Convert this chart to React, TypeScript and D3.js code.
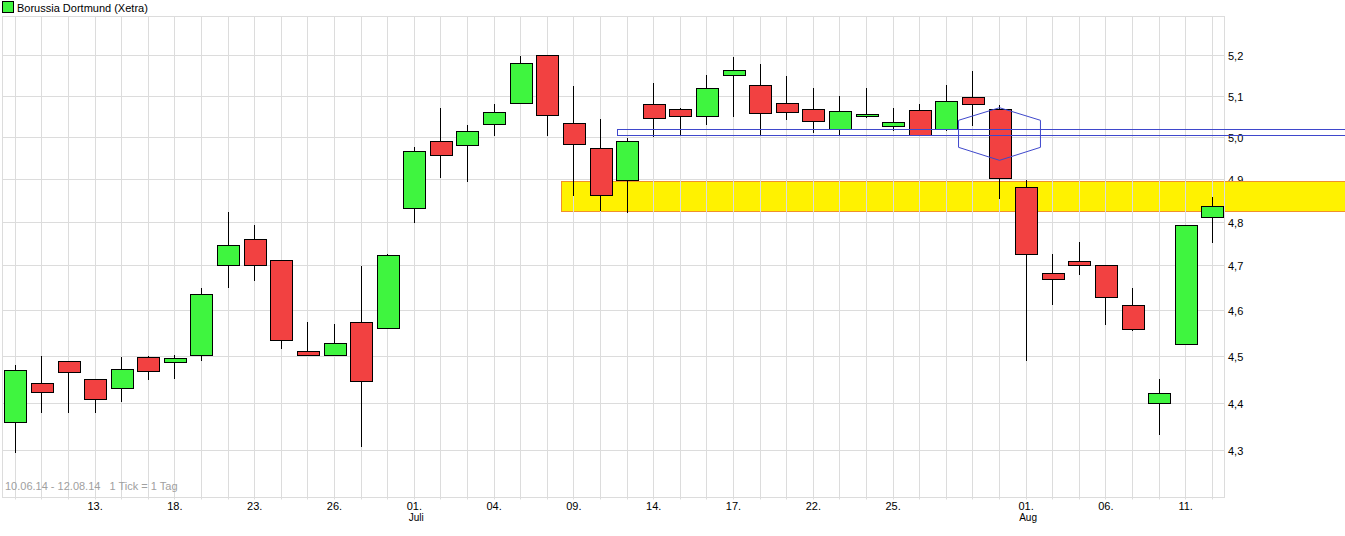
import React, { useEffect } from "react";
import * as d3 from "d3";

// ---------- DATA ----------
const title = "Borussia Dortmund (Xetra)";
const rangeText = "10.06.14 - 12.08.14   1 Tick = 1 Tag";

const tradingDays = [
  "2014-06-10","2014-06-11","2014-06-12","2014-06-13","2014-06-16","2014-06-17","2014-06-18","2014-06-19","2014-06-20",
  "2014-06-23","2014-06-24","2014-06-25","2014-06-26","2014-06-27","2014-06-30",
  "2014-07-01","2014-07-02","2014-07-03","2014-07-04","2014-07-07","2014-07-08","2014-07-09","2014-07-10","2014-07-11",
  "2014-07-14","2014-07-15","2014-07-16","2014-07-17","2014-07-18","2014-07-21","2014-07-22","2014-07-23","2014-07-24",
  "2014-07-25","2014-07-28","2014-07-29","2014-07-30","2014-07-31",
  "2014-08-01","2014-08-04","2014-08-05","2014-08-06","2014-08-07","2014-08-08","2014-08-11","2014-08-12",
];

const openPrices = [
  4.360, 4.442, 4.490, 4.451, 4.432, 4.498, 4.487, 4.502, 4.701, 4.761,
  4.713, 4.511, 4.502, 4.574, 4.561, 4.832, 4.990, 4.981, 5.031, 5.082,
  5.201, 5.034, 4.974, 4.898, 5.080, 5.068, 5.051, 5.151, 5.126, 5.082,
  5.068, 5.020, 5.051, 5.026, 5.065, 5.019, 5.097, 5.068, 4.881, 4.683,
  4.710, 4.701, 4.612, 4.400, 4.526, 4.811,
];
const highPrices = [
  4.481, 4.501, 4.490, 4.451, 4.499, 4.500, 4.502, 4.650, 4.824, 4.793,
  4.713, 4.575, 4.571, 4.700, 4.726, 4.977, 5.071, 5.030, 5.081, 5.199,
  5.201, 5.125, 5.044, 4.998, 5.131, 5.070, 5.152, 5.197, 5.179, 5.149,
  5.119, 5.099, 5.119, 5.070, 5.080, 5.127, 5.162, 5.077, 4.898, 4.727,
  4.754, 4.701, 4.650, 4.451, 4.793, 4.858,
];
const lowPrices = [
  4.296, 4.380, 4.380, 4.380, 4.403, 4.450, 4.452, 4.489, 4.651, 4.665,
  4.517, 4.502, 4.502, 4.309, 4.561, 4.799, 4.904, 4.894, 5.004, 5.080,
  5.004, 4.861, 4.826, 4.822, 5.001, 5.004, 5.030, 5.050, 5.004, 5.042,
  5.011, 5.006, 5.047, 5.014, 5.006, 5.016, 5.028, 4.854, 4.491, 4.613,
  4.680, 4.569, 4.556, 4.334, 4.526, 4.752,
];
const closePrices = [
  4.470, 4.424, 4.466, 4.408, 4.472, 4.468, 4.496, 4.638, 4.747, 4.701,
  4.535, 4.502, 4.530, 4.446, 4.724, 4.966, 4.957, 5.014, 5.060, 5.181,
  5.053, 4.983, 4.862, 4.990, 5.046, 5.051, 5.119, 5.164, 5.058, 5.060,
  5.038, 5.063, 5.056, 5.036, 5.006, 5.089, 5.080, 4.902, 4.726, 4.670,
  4.701, 4.630, 4.559, 4.421, 4.793, 4.837,
];

const xTickDates = ["2014-06-13","2014-06-18","2014-06-23","2014-06-26","2014-07-01","2014-07-04","2014-07-09",
  "2014-07-14","2014-07-17","2014-07-22","2014-07-25","2014-08-01","2014-08-06","2014-08-11"];
const xTickLabels = ["13.","18.","23.","26.","01.","04.","09.","14.","17.","22.","25.","01.","06.","11."];
const monthDates = ["2014-07-01", "2014-08-01"];
const monthLabels = ["Juli", "Aug"];

const yTicks = [4.3, 4.4, 4.5, 4.6, 4.7, 4.8, 4.9, 5.0, 5.1, 5.2];
const yTickLabels = ["4,3","4,4","4,5","4,6","4,7","4,8","4,9","5,0","5,1","5,2"];

// annotations (in day-index / price units)
const supportZone = { fromIndex: 20.53, low: 4.825, high: 4.895 };
const resistanceZone = { fromIndex: 22.63, low: 5.0045, high: 5.019 };
const hexagon = { centerIndex: 37, halfWidth: 1.54, top: 5.0714, upper: 5.0408, lower: 4.9757, bottom: 4.9447 };

// ---------- CHART ----------
const W = 1345, H = 536;
const GRID = "#dcdcdc";
const GREEN = "#3ff53f";
const RED = "#f24141";
const BLUE = "#3f48cc";
const FONT = "'Liberation Sans', Arial, sans-serif";

export default function App() {
  useEffect(() => {
    document.body.style.margin = "0";
  }, []);

  const x = d3.scaleLinear().domain([0, tradingDays.length - 1]).range([15.3, 1212.3]);
  const y = d3.scaleLog().domain([4.2058, 5.3]).range([497, 16]);
  const left = 2.5, right = 1224.5, top = 16.5, bottom = 497.5;
  const crisp = (v: number) => Math.floor(v) + 0.5;
  const idx = (d: string) => tradingDays.indexOf(d);

  const hx0 = x(hexagon.centerIndex - hexagon.halfWidth);
  const hx1 = x(hexagon.centerIndex + hexagon.halfWidth);
  const hxc = x(hexagon.centerIndex);
  const hexPts = [
    [hxc, y(hexagon.top)], [hx1, y(hexagon.upper)], [hx1, y(hexagon.lower)],
    [hxc, y(hexagon.bottom)], [hx0, y(hexagon.lower)], [hx0, y(hexagon.upper)],
  ];
  const hexPath = d3.line()(hexPts as [number, number][]) + "Z";

  return (
    <svg width={W} height={H} style={{ position: "absolute", left: 0, top: 0, background: "#fff" }}
      fontFamily={FONT}>
      <rect x={0} y={0} width={W} height={H} fill="#fff" />
      {/* legend */}
      <rect x={2.5} y={1.5} width={11} height={11} fill={GREEN} stroke="#000" />
      <text x={17} y={11.5} fontSize={11} fill="#000">{title}</text>

      {/* y labels */}
      {yTicks.map((t, i) => (
        <text key={"yl" + i} x={1228} y={y(t) + 4.5} fontSize={11} fill="#000">{yTickLabels[i]}</text>
      ))}

      {/* support zone */}
      <rect x={crisp(x(supportZone.fromIndex))} y={crisp(y(supportZone.high))}
        width={W - crisp(x(supportZone.fromIndex)) + 2}
        height={Math.round(y(supportZone.low) - y(supportZone.high))}
        fill="#fff200" stroke="#f0902a" strokeWidth={1} />

      {/* grid */}
      {yTicks.map((t, i) => (
        <line key={"hg" + i} x1={left} x2={right} y1={crisp(y(t))} y2={crisp(y(t))} stroke={GRID} />
      ))}
      {tradingDays.map((d, i) => (
        <line key={"vg" + i} x1={crisp(x(i))} x2={crisp(x(i))} y1={top} y2={bottom + 2} stroke={GRID} />
      ))}
      <rect x={left} y={top} width={right - left} height={bottom - top} fill="none" stroke={GRID} />

      {/* range text */}
      <text x={5} y={489.5} fontSize={11} fill="#a0a0a0" style={{ whiteSpace: "pre" }} xmlSpace="preserve">{rangeText}</text>

      {/* x labels */}
      {xTickDates.map((d, i) => (
        <text key={"xl" + i} x={x(idx(d))} y={509.5} fontSize={11} textAnchor="middle" fill="#000">{xTickLabels[i]}</text>
      ))}
      {monthDates.map((d, i) => (
        <text key={"ml" + i} x={x(idx(d)) + 2} y={520.5} fontSize={10} textAnchor="middle" fill="#000">{monthLabels[i]}</text>
      ))}

      {/* candles */}
      {tradingDays.map((d, i) => {
        const o = openPrices[i], c = closePrices[i], hi = highPrices[i], lo = lowPrices[i];
        const cx = crisp(x(i));
        const yTop = Math.round(y(Math.max(o, c)));
        const yBot = Math.round(y(Math.min(o, c)));
        const up = c >= o;
        return (
          <g key={"c" + i}>
            <line x1={cx} x2={cx} y1={Math.round(y(hi))} y2={Math.round(y(lo))} stroke="#000" strokeWidth={1} />
            <rect x={Math.round(x(i)) - 10.5} y={yTop + 0.5} width={22} height={Math.max(yBot - yTop, 2)}
              fill={up ? GREEN : RED} stroke="#000" strokeWidth={1} />
          </g>
        );
      })}

      {/* resistance zone */}
      <rect x={crisp(x(resistanceZone.fromIndex))} y={crisp(y(resistanceZone.high))}
        width={W - crisp(x(resistanceZone.fromIndex)) + 2}
        height={Math.round(y(resistanceZone.low) - y(resistanceZone.high))}
        fill="none" stroke={BLUE} strokeWidth={1} />

      {/* hexagon marker */}
      <path d={hexPath} fill="none" stroke={BLUE} strokeWidth={1} />
    </svg>
  );
}
